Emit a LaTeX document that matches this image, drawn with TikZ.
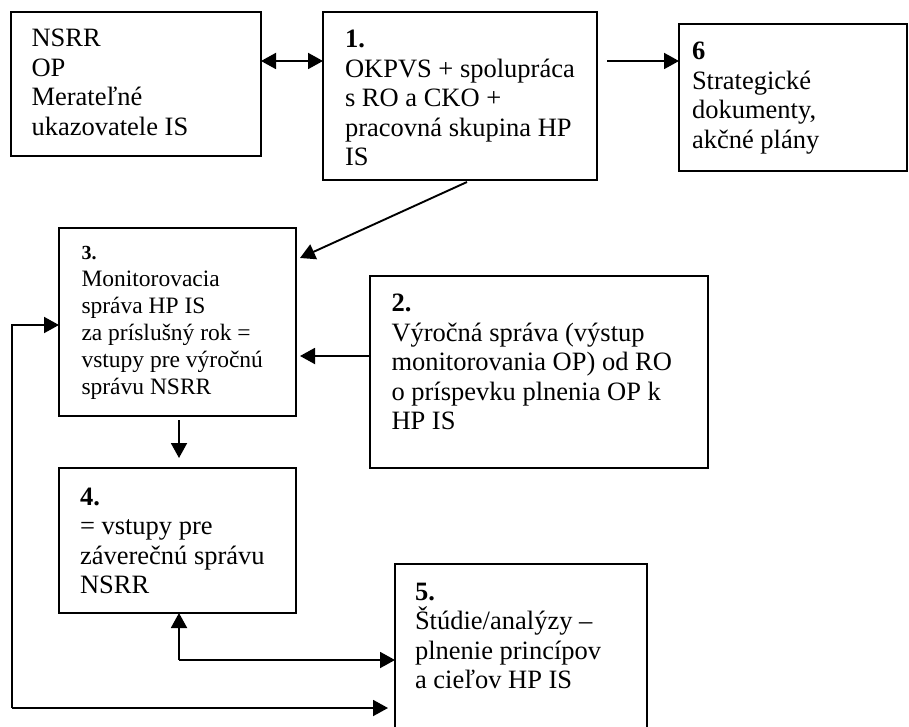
\documentclass[tikz,border=0pt]{standalone}
\usepackage{fontspec}
\setmainfont{Liberation Serif}
\usetikzlibrary{arrows.meta,calc}
\begin{document}
\begin{tikzpicture}[x=1pt,y=-1pt,
  box/.style={draw,line width=1.9pt,minimum width=#1,anchor=north west,inner sep=0pt,outer sep=0pt},
  txt/.style={anchor=base west,inner sep=0pt,outer sep=0pt},
  arr/.style={line width=1.9pt,-{Triangle[length=15pt,width=16pt]}},
  dbl/.style={line width=1.9pt,{Triangle[length=15pt,width=16pt]}-{Triangle[length=15pt,width=16pt]}}]
\newcommand{\bigtxt}[1]{\parbox[t]{330pt}{\raggedright\fontsize{26.5}{29.5}\selectfont #1}}
\fill[white] (0,0) rectangle (909,727);
\clip (0,0) rectangle (909,727);
\useasboundingbox (0,0) rectangle (909,727);
% boxes
\node[box=250pt,minimum height=144pt] (A) at (11,12) {};
\node[box=274pt,minimum height=168pt] (B) at (323,12) {};
\node[box=228pt,minimum height=147pt] (C) at (679,24) {};
\node[box=237pt,minimum height=188pt] (D) at (59,228) {};
\node[box=338pt,minimum height=192pt] (E) at (370,276) {};
\node[box=237pt,minimum height=145pt] (F) at (59,468) {};
\node[box=252pt,minimum height=200pt] (G) at (395,564) {};
% texts
\node[txt] (tA) at (31.5,47) {\bigtxt{NSRR\\OP\\Merateľné\\ukazovatele IS}};
\node[txt] (tB) at (345,48) {\bigtxt{\textbf{1.}\\OKPVS + spolupráca\\s RO a CKO +\\pracovná skupina HP\\IS}};
\node[txt] (tC) at (692,60) {\bigtxt{\textbf{6}\\Strategické\\dokumenty,\\akčné plány}};
\node[txt] (tD) at (81.5,259) {\parbox[t]{300pt}{\raggedright\fontsize{23.5}{27}\selectfont {\fontsize{20}{27}\selectfont\textbf{3.}}\\Monitorovacia\\správa HP IS\\za príslušný rok =\\vstupy pre výročnú\\správu NSRR}};
\node[txt] (tE) at (391.5,311.7) {\bigtxt{\textbf{2.}\\Výročná správa (výstup\\monitorovania OP) od RO\\o príspevku plnenia OP k\\HP IS}};
\node[txt] (tF) at (80,505) {\bigtxt{\textbf{4.}\\= vstupy pre\\záverečnú správu\\NSRR}};
\node[txt] (tG) at (415,600) {\bigtxt{\textbf{5.}\\Štúdie/analýzy –\\plnenie princípov\\a cieľov HP IS}};
% row coordinates
\coordinate (r1) at (0,61);
\coordinate (r3) at (0,356);
\coordinate (r4) at (0,325);
\coordinate (r6) at (0,660);
\coordinate (fb) at (12,708);
% connectors
\draw[dbl] (A.east |- r1) -- (B.west |- r1);
\draw[arr] ($(B.east |- r1)+(10,0)$) -- (C.west |- r1);
\draw[arr] ($(B.south)+(7,2)$) -- ($(D.north east)+(4,30)$);
\draw[arr] (E.west |- r3) -- ($(D.east |- r3)+(4,0)$);
\draw[arr] ($(D.south)+(1.5,4)$) -- ($(F.north)+(1.5,-10)$);
\draw[arr] ($(F.south |- r6)+(1.5,0)$) -- (G.west |- r6);
\draw[arr] ($(F.south |- r6)+(1.5,0)$) -- ($(F.south)+(1.5,0)$);
\draw[arr] (fb) |- (D.west |- r4);
\draw[arr] (fb) -- ($(G.west |- fb)+(-7,0)$);
\end{tikzpicture}
\end{document}
